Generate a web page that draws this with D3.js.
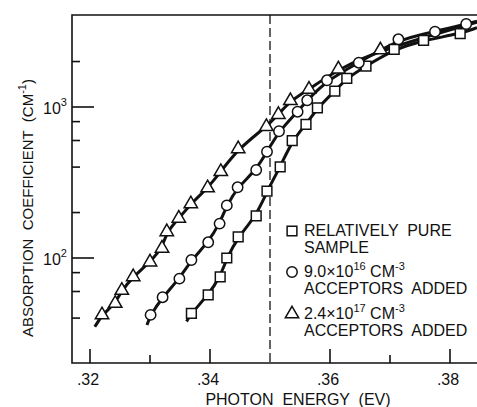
<!DOCTYPE html>
<meta charset="utf-8">
<style>
body { margin: 0; background: #fff; }
svg { font-family: "Liberation Sans", Arial, sans-serif; }
.frame { fill: none; stroke: #111; stroke-width: 1.6; }
.tick { stroke: #111; stroke-width: 1.6; }
.fit { fill: none; stroke: #111; stroke-width: 3; }
.marker { fill: #fff; stroke: #111; stroke-width: 1.5; }
.dash { stroke: #111; stroke-width: 1.3; stroke-dasharray: 9 4; }
.lbl { fill: #111; white-space: pre; }
</style>
<svg width="477" height="407"></svg>
<script src="https://cdn.jsdelivr.net/npm/d3@7"></script>
<script>

// photon energy (eV) / absorption coefficient (cm^-1)
var pureE = [.3369, .3397, .3417, .3428, .3447, .3477, .3495, .3517, .3537, .3560, .3579, .3608, .3628, .3660, .3707, .3756, .3817];
var pureA = [43, 57, 75, 100, 138, 190, 277, 401, 598, 766, 985, 1276, 1549, 1868, 2410, 2765, 3058];

var lowE = [.3301, .3321, .3349, .3369, .3397, .3416, .3428, .3446, .3477, .3495, .3515, .3546, .3562, .3595, .3648, .3714, .3775, .3827];
var lowA = [42, 55, 73, 97, 127, 169, 223, 294, 383, 506, 691, 931, 1108, 1502, 1965, 2807, 3153, 3546];

var highE = [.3220, .3242, .3253, .3272, .3300, .3320, .3328, .3348, .3368, .3396, .3418, .3447, .3494, .3514, .3534, .3565, .3614, .3684];
var highA = [42, 50, 61, 75, 94, 116, 149, 183, 228, 291, 373, 529, 740, 891, 1100, 1310, 1785, 2385];

// where the drawn curves begin and end beyond the points
var pureEnds = [[.3361, 38], [.3845, 3350]];
var lowEnds = [[.3295, 36], [.3845, 3700]];
var highEnds = [[.3208, 35], [.3845, 3650]];

var xMajor = [.32, .34, .36, .38];
var xMinor = [.33, .37];
var yMajor = [100, 1000];
var yMinor = [40, 60, 80, 200, 400, 600, 800, 2000];
var dashE = .35;

(function() {

var svg = d3.select("svg");

var mLeft = 72, mRight = 477, mTop = 15, mBottom = 363;

var x = d3.scaleLinear().domain([.317, .3845]).range([mLeft, mRight]);
var y = d3.scaleLog()
    .domain([Math.pow(10, 2 - 105 / 151), Math.pow(10, 2 + 243 / 151)])
    .range([mBottom, mTop]);

// frame (open on the right like the original crop)
svg.append("path")
    .attr("class", "frame")
    .attr("d", "M" + mRight + "," + mTop + "H" + mLeft + "V" + mBottom + "H" + mRight);

// x ticks point up into the plot
svg.selectAll(".xmaj").data(xMajor).enter().append("line")
    .attr("class", "tick")
    .attr("x1", d => x(d)).attr("x2", d => x(d))
    .attr("y1", mBottom).attr("y2", mBottom - 14);
svg.selectAll(".xmin").data(xMinor).enter().append("line")
    .attr("class", "tick")
    .attr("x1", d => x(d)).attr("x2", d => x(d))
    .attr("y1", mBottom).attr("y2", mBottom - 8);

svg.selectAll(".xlab").data(xMajor).enter().append("text")
    .attr("class", "lbl")
    .attr("x", d => x(d) - 2).attr("y", 385)
    .attr("text-anchor", "middle")
    .style("font-size", "16px")
    .text(d => d3.format(".2f")(d).replace(/^0/, ""));

// y ticks point right into the plot
svg.selectAll(".ymaj").data(yMajor).enter().append("line")
    .attr("class", "tick")
    .attr("x1", mLeft).attr("x2", mLeft + 22)
    .attr("y1", d => y(d)).attr("y2", d => y(d));
svg.selectAll(".ymin").data(yMinor).enter().append("line")
    .attr("class", "tick")
    .attr("x1", mLeft).attr("x2", mLeft + 8)
    .attr("y1", d => y(d)).attr("y2", d => y(d));

var ylab = svg.selectAll(".ylab").data(yMajor).enter().append("text")
    .attr("class", "lbl")
    .attr("x", 43).attr("y", d => y(d) + 7)
    .style("font-size", "16px");
ylab.append("tspan").text("10");
ylab.append("tspan").attr("dy", -8).style("font-size", "11px")
    .text(d => Math.round(Math.log10(d)));

// dashed marker line at 0.35 eV
svg.append("line")
    .attr("class", "dash")
    .attr("x1", x(dashE)).attr("x2", x(dashE))
    .attr("y1", mTop).attr("y2", mBottom);

// fitted curves
var line = d3.line()
    .x(d => x(d[0])).y(d => y(d[1]))
    .curve(d3.curveBasis);

function series(E, A, ends) {
  var pts = E.map((e, i) => [e, A[i]]);
  return { pts: pts, curve: [ends[0]].concat(pts, [ends[1]]) };
}

var pure = series(pureE, pureA, pureEnds),
    low = series(lowE, lowA, lowEnds),
    high = series(highE, highA, highEnds);

[pure, low, high].forEach(function(s) {
  svg.append("path").datum(s.curve).attr("class", "fit").attr("d", line);
});

var sym = {
  square: d3.symbol().type(d3.symbolSquare).size(95),
  circle: d3.symbol().type(d3.symbolCircle).size(85),
  triangle: d3.symbol().type(d3.symbolTriangle).size(78)
};

function markers(s, shape) {
  svg.append("g").selectAll("path").data(s.pts).enter().append("path")
      .attr("class", "marker")
      .attr("transform", d => "translate(" + x(d[0]) + "," + y(d[1]) + ")")
      .attr("d", sym[shape]);
}
markers(pure, "square");
markers(low, "circle");
markers(high, "triangle");

// legend
var legend = [
  { shape: "square", y: 231, lines: [["RELATIVELY  PURE"], ["SAMPLE"]] },
  { shape: "circle", y: 272, lines: [["9.0×10", "16", " CM", "-3"], ["ACCEPTORS  ADDED"]] },
  { shape: "triangle", y: 314, lines: [["2.4×10", "17", " CM", "-3"], ["ACCEPTORS  ADDED"]] }
];

legend.forEach(function(d) {
  svg.append("path")
      .attr("class", "marker")
      .attr("transform", "translate(292," + d.y + ")")
      .attr("d", sym[d.shape]);
  d.lines.forEach(function(parts, i) {
    var t = svg.append("text")
        .attr("class", "lbl")
        .attr("x", 304).attr("y", d.y + 5 + i * 17)
        .style("font-size", "16px");
    parts.forEach(function(p, j) {
      if (j % 2 === 0) t.append("tspan").attr("dy", j ? 7 : 0).text(p);
      else t.append("tspan").attr("dy", -7).style("font-size", "11px").text(p);
    });
  });
});

// axis titles
svg.append("text")
    .attr("class", "lbl")
    .attr("x", 298).attr("y", 405)
    .attr("text-anchor", "middle")
    .style("font-size", "16px")
    .text("PHOTON  ENERGY  (EV)");

var yt = svg.append("text")
    .attr("class", "lbl")
    .attr("transform", "translate(33,208) rotate(-90)")
    .attr("text-anchor", "middle")
    .style("font-size", "15px");
yt.append("tspan").text("ABSORPTION  COEFFICIENT  (CM");
yt.append("tspan").attr("dy", -7).style("font-size", "11px").text("-1");
yt.append("tspan").attr("dy", 7).text(")");

})();

</script>
